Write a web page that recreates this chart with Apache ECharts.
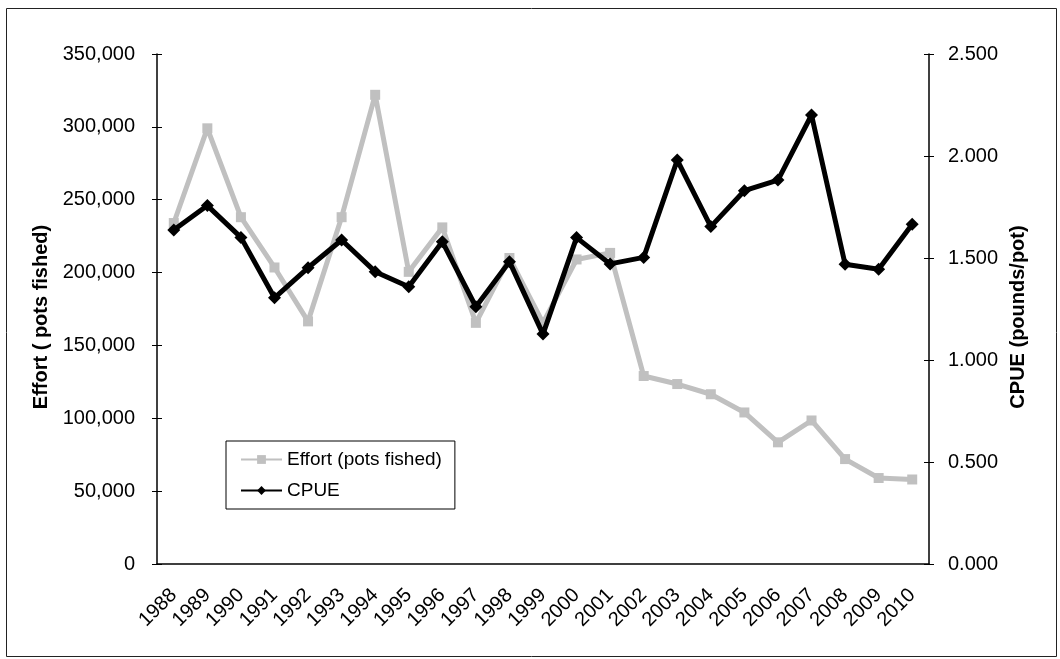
<!DOCTYPE html>
<html>
<head>
<meta charset="utf-8">
<script src="https://cdn.jsdelivr.net/npm/echarts@6/dist/echarts.min.js"></script>
<style>
  html, body { margin: 0; padding: 0; background: #fff; }
  #main { width: 1060px; height: 659px; }
</style>
</head>
<body>
<div id="main"></div>
<script>
// years on the x axis
const years = ['1988', '1989', '1990', '1991', '1992', '1993', '1994', '1995', '1996', '1997', '1998', '1999',
  '2000', '2001', '2002', '2003', '2004', '2005', '2006', '2007', '2008', '2009', '2010']
// effort (pots fished), left axis
const effort = [234000, 299000, 238000, 203500, 166500, 238000, 322000, 200500, 231000, 165500, 210000, 165500,
  209000, 213500, 129000, 123500, 116500, 104000, 83500, 98500, 72000, 59000, 58000]
// CPUE (pounds/pot), right axis
const cpue = [1.637, 1.757, 1.601, 1.305, 1.452, 1.588, 1.433, 1.359, 1.580, 1.261, 1.482, 1.127,
  1.600, 1.471, 1.503, 1.980, 1.654, 1.830, 1.882, 2.201, 1.469, 1.445, 1.665]
// tick settings
const effortTicks = { min: 0, max: 350000, interval: 50000 }
const cpueTicks = { min: 0, max: 2.5, interval: 0.5 }

const font = "'Liberation Sans', Arial, sans-serif"
const chartInstance = echarts.init(document.getElementById('main'))

// a hidden-label axis that only draws the inner half of the ticks
function innerTicks(pos, ticks) {
  return {
    type: 'value', position: pos, min: ticks.min, max: ticks.max, interval: ticks.interval,
    axisLine: { show: false }, axisLabel: { show: false }, splitLine: { show: false },
    axisTick: { show: true, inside: true, length: 5, lineStyle: { color: '#000' } }
  }
}

const option = {
  animation: false,
  textStyle: { fontFamily: font },
  grid: { left: 157, right: 131, top: 54, bottom: 95 },
  graphic: [{
    // outer frame round the whole chart
    type: 'rect',
    shape: { x: 6.5, y: 8.5, width: 1050, height: 648 },
    style: { fill: null, stroke: '#222', lineWidth: 1 },
    silent: true
  }],
  legend: {
    orient: 'vertical',
    left: 226,
    top: 441,
    padding: [9, 13, 9, 14],
    itemGap: 12,
    itemWidth: 41,
    itemHeight: 11,
    borderColor: '#000',
    borderWidth: 1,
    backgroundColor: '#fff',
    textStyle: { fontSize: 19, color: '#000', fontFamily: font },
    data: ['Effort (pots fished)', 'CPUE']
  },
  xAxis: [
    {
      type: 'category',
      data: years,
      boundaryGap: true,
      axisLine: { lineStyle: { color: '#000', width: 1.5 } },
      axisTick: { length: 5, lineStyle: { color: '#000' } },
      axisLabel: { rotate: 45, fontSize: 20, color: '#000', margin: 28, interval: 0, fontFamily: font }
    },
    {
      type: 'category',
      data: years,
      position: 'bottom',
      axisLine: { show: false },
      axisLabel: { show: false },
      axisTick: { inside: true, length: 5, lineStyle: { color: '#000' } }
    }
  ],
  yAxis: [
    {
      type: 'value',
      position: 'left',
      min: effortTicks.min, max: effortTicks.max, interval: effortTicks.interval,
      name: 'Effort ( pots fished)',
      nameLocation: 'middle',
      nameRotate: 90,
      nameGap: 95,
      nameTextStyle: { fontSize: 20, fontWeight: 'bold', color: '#000', fontFamily: font, padding: [0, 16, 0, 0] },
      axisLine: { show: true, lineStyle: { color: '#000', width: 1.5 } },
      axisTick: { show: true, length: 5, lineStyle: { color: '#000' } },
      axisLabel: {
        fontSize: 20, color: '#000', margin: 22, fontFamily: font,
        formatter: v => v.toLocaleString('en-US')
      },
      splitLine: { show: false }
    },
    {
      type: 'value',
      position: 'right',
      min: cpueTicks.min, max: cpueTicks.max, interval: cpueTicks.interval,
      name: 'CPUE (pounds/pot)',
      nameLocation: 'middle',
      nameRotate: 90,
      nameGap: 72,
      nameTextStyle: { fontSize: 20, fontWeight: 'bold', color: '#000', fontFamily: font, padding: [0, 16, 0, 0] },
      axisLine: { show: true, lineStyle: { color: '#000', width: 1.5 } },
      axisTick: { show: true, length: 5, lineStyle: { color: '#000' } },
      axisLabel: {
        fontSize: 20, color: '#000', margin: 19, fontFamily: font,
        formatter: v => v.toFixed(3)
      },
      splitLine: { show: false }
    },
    innerTicks('left', effortTicks),
    innerTicks('right', cpueTicks)
  ],
  series: [
    {
      name: 'Effort (pots fished)',
      type: 'line',
      data: effort,
      yAxisIndex: 0,
      symbol: 'rect',
      symbolSize: 10,
      lineStyle: { color: '#C0C0C0', width: 5 },
      itemStyle: { color: '#C0C0C0' },
      z: 2
    },
    {
      name: 'CPUE',
      type: 'line',
      data: cpue,
      yAxisIndex: 1,
      symbol: 'diamond',
      symbolSize: 13,
      lineStyle: { color: '#000', width: 5 },
      itemStyle: { color: '#000' },
      z: 3
    }
  ]
}
chartInstance.setOption(option)
</script>
</body>
</html>
